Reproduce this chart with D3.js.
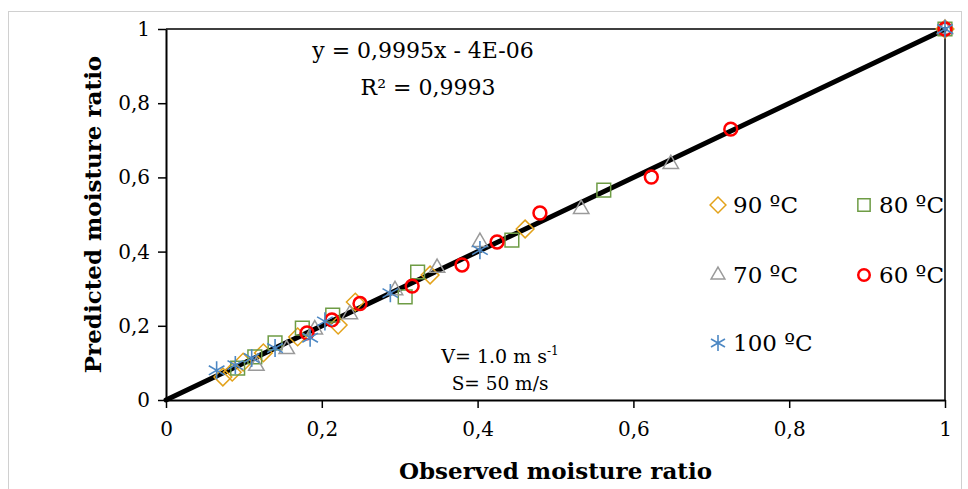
<!DOCTYPE html>
<html>
<head>
<meta charset="utf-8">
<script src="https://cdn.jsdelivr.net/npm/d3@7"></script>
<style>
  body { margin: 0; background: #fff; }
  text { font-family: "DejaVu Serif", serif; fill: #000; }
</style>
</head>
<body>
<svg id="chart" width="968" height="489"></svg>
<script>
// observed vs predicted moisture ratio
var obs90  = [0.073, 0.085, 0.099, 0.125, 0.169, 0.221, 0.243, 0.339, 0.461, 1];
var pred90 = [0.062, 0.075, 0.102, 0.127, 0.170, 0.202, 0.264, 0.337, 0.461, 1];
var obs80  = [0.092, 0.114, 0.140, 0.175, 0.214, 0.307, 0.323, 0.444, 0.562, 1];
var pred80 = [0.086, 0.116, 0.154, 0.194, 0.229, 0.278, 0.345, 0.431, 0.566, 1];
var obs70  = [0.116, 0.155, 0.191, 0.236, 0.294, 0.348, 0.403, 0.533, 0.648, 1];
var pred70 = [0.092, 0.137, 0.190, 0.231, 0.296, 0.356, 0.426, 0.515, 0.636, 1];
var obs60  = [0.181, 0.213, 0.249, 0.316, 0.380, 0.425, 0.480, 0.623, 0.725, 1];
var pred60 = [0.181, 0.216, 0.260, 0.307, 0.364, 0.426, 0.504, 0.601, 0.730, 1];
var obs100  = [0.065, 0.089, 0.110, 0.140, 0.185, 0.204, 0.288, 0.403, 1];
var pred100 = [0.080, 0.094, 0.113, 0.140, 0.168, 0.212, 0.288, 0.404, 1];

var seriesNames = ['90 ºC', '80 ºC', '70 ºC', '60 ºC', '100 ºC'];
var tickValues = [0, 0.2, 0.4, 0.6, 0.8, 1];
var tickLabels = ['0', '0,2', '0,4', '0,6', '0,8', '1'];
var slope = 0.9995, intercept = -0.000004;

var svg = d3.select('#chart');
var margin = {top: 29, right: 23, bottom: 89, left: 166},
  width = 968 - margin.left - margin.right,
  height = 489 - margin.top - margin.bottom;

// outer chart border
svg.append('rect')
  .attr('x', 8.5).attr('y', 11.5)
  .attr('width', 953).attr('height', 500)
  .attr('fill', 'none').attr('stroke', '#d0d0d0').attr('stroke-width', 1);

var x = d3.scaleLinear().domain([0, 1]).range([0, width]);
var y = d3.scaleLinear().domain([0, 1]).range([height, 0]);

var g = svg.append('g')
  .attr('transform', 'translate(' + margin.left + ',' + margin.top + ')');

// plot area frame (top and right)
g.append('path')
  .attr('d', 'M0,' + y(1) + 'H' + x(1) + 'V' + y(0))
  .attr('fill', 'none').attr('stroke', '#000').attr('stroke-width', 1.5);

var xAxis = d3.axisBottom(x).tickValues(tickValues)
  .tickFormat(function(d, i) { return tickLabels[i]; })
  .tickSize(8).tickSizeOuter(0).tickPadding(14);
var yAxis = d3.axisLeft(y).tickValues(tickValues)
  .tickFormat(function(d, i) { return tickLabels[i]; })
  .tickSize(8).tickSizeOuter(0).tickPadding(8);

var gx = g.append('g')
  .attr('transform', 'translate(0,' + height + ')')
  .call(xAxis);
var gy = g.append('g').call(yAxis);
[gx, gy].forEach(function(a) {
  a.select('.domain').attr('stroke-width', 2);
  a.selectAll('.tick line').attr('stroke-width', 1.5);
  a.selectAll('.tick text')
    .style('font-family', '"DejaVu Serif", serif')
    .style('font-size', '20px').attr('fill', '#000');
});

// trend line
g.append('line')
  .attr('x1', x(0)).attr('y1', y(intercept))
  .attr('x2', x(1)).attr('y2', y(slope + intercept))
  .attr('stroke', '#000').attr('stroke-width', 5)
  .attr('stroke-linecap', 'round');

var styles = [
  {sym: d3.symbolDiamond2, size: 200, color: '#e3a21a', sw: 1.5},
  {sym: d3.symbolSquare2,  size: 240, color: '#6e9c45', sw: 1.5},
  {sym: d3.symbolTriangle2, size: 170, color: '#9a9a9a', sw: 1.5},
  {sym: d3.symbolCircle,   size: 130, color: '#ff0000', sw: 2.5},
  {sym: d3.symbolAsterisk, size: 230, color: '#4d88c4', sw: 1.6}
];
var series = [
  [obs90, pred90], [obs80, pred80], [obs70, pred70], [obs60, pred60], [obs100, pred100]
];

series.forEach(function(s, k) {
  var st = styles[k];
  var pts = s[0].map(function(v, i) { return [v, s[1][i]]; });
  g.selectAll('.pt' + k)
    .data(pts)
    .enter().append('path')
    .attr('class', 'pt' + k)
    .attr('transform', function(d) { return 'translate(' + x(d[0]) + ',' + y(d[1]) + ')'; })
    .attr('d', d3.symbol().type(st.sym).size(st.size))
    .attr('fill', 'none')
    .attr('stroke', st.color)
    .attr('stroke-width', st.sw);
});

// legend
var legendPos = [[718, 205], [864, 205], [718, 275], [864, 275], [718, 343]];
legendPos.forEach(function(p, k) {
  var st = styles[k];
  svg.append('path')
    .attr('transform', 'translate(' + p[0] + ',' + p[1] + ')')
    .attr('d', d3.symbol().type(st.sym).size(st.size * 0.8))
    .attr('fill', 'none').attr('stroke', st.color).attr('stroke-width', st.sw);
  svg.append('text')
    .attr('x', p[0] + 15).attr('y', p[1] + 8)
    .style('font-size', '23px')
    .text(seriesNames[k]);
});

// equation
svg.append('text').attr('x', 423).attr('y', 58)
  .attr('text-anchor', 'middle').style('font-size', '22px')
  .text('y = 0,9995x - 4E-06');
svg.append('text').attr('x', 428).attr('y', 95)
  .attr('text-anchor', 'middle').style('font-size', '22px')
  .text('R² = 0,9993');

// conditions
var cond = svg.append('text').attr('x', 500).attr('y', 363)
  .attr('text-anchor', 'middle').style('font-size', '19px');
cond.append('tspan').text('V= 1.0 m s');
cond.append('tspan').attr('dy', -8).style('font-size', '12px').text('-1');
svg.append('text').attr('x', 500).attr('y', 390)
  .attr('text-anchor', 'middle').style('font-size', '18.5px')
  .text('S= 50 m/s');

// axis titles
svg.append('text')
  .attr('x', margin.left + width / 2).attr('y', 479)
  .attr('text-anchor', 'middle')
  .style('font-size', '23px').style('font-weight', 'bold')
  .text('Observed moisture ratio');
svg.append('text')
  .attr('transform', 'translate(101,' + (margin.top + height / 2) + ') rotate(-90)')
  .attr('text-anchor', 'middle')
  .style('font-size', '23px').style('font-weight', 'bold')
  .text('Predicted moisture ratio');
</script>
</body>
</html>
